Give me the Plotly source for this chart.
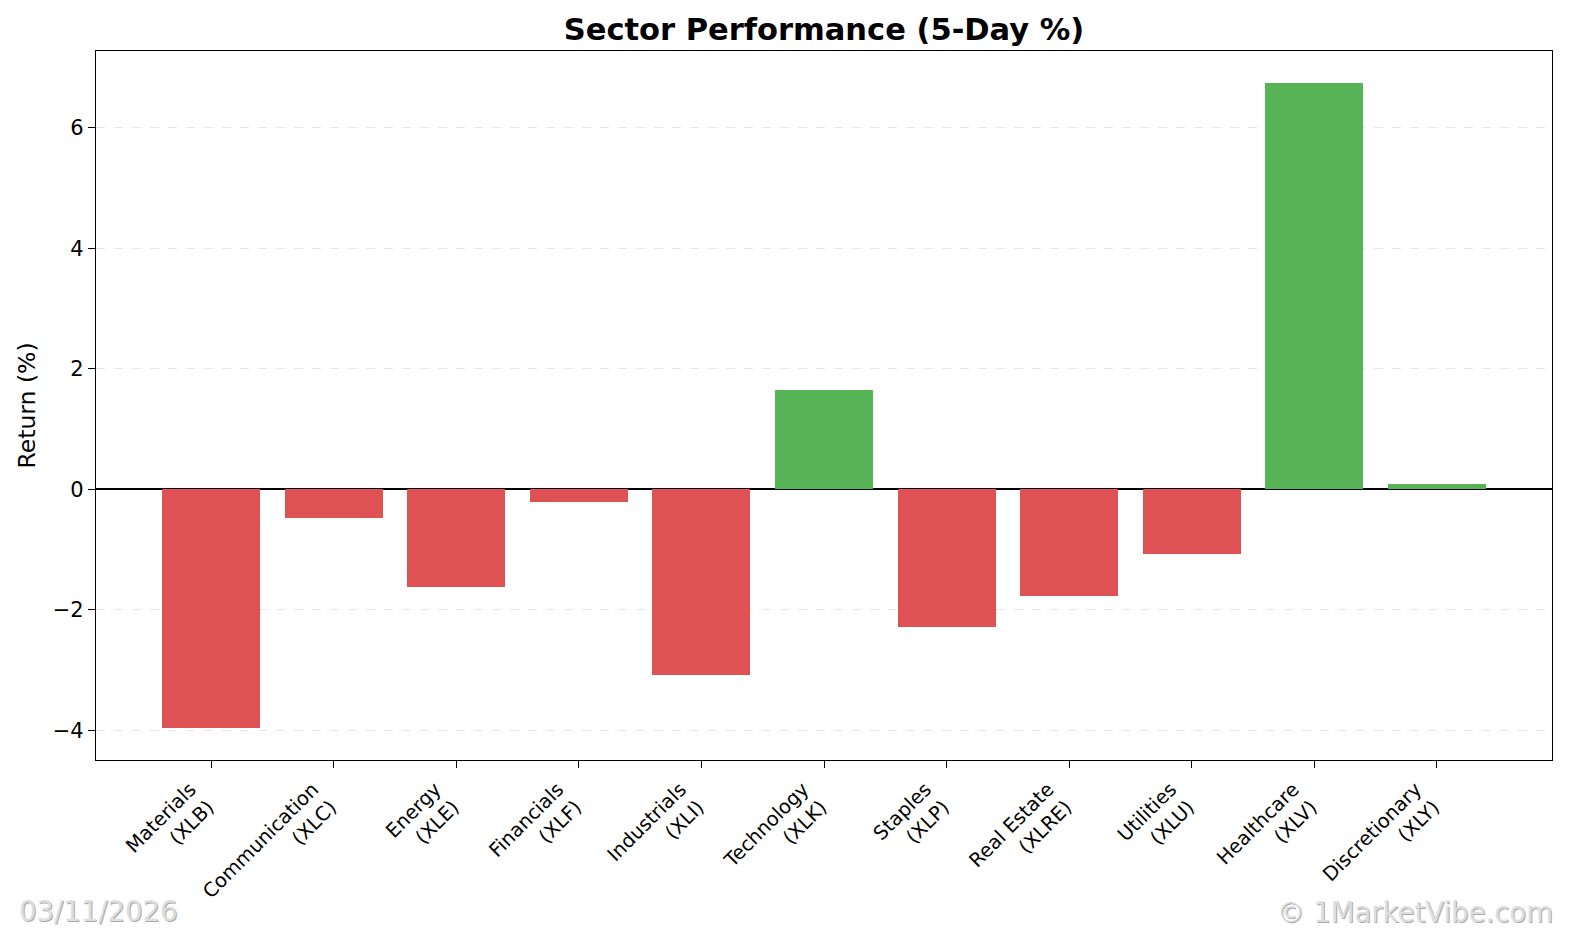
import plotly.graph_objects as go

sectors = ["Materials", "Communication", "Energy", "Financials", "Industrials", "Technology",
           "Staples", "Real Estate", "Utilities", "Healthcare", "Discretionary"]
tickers = ["XLB", "XLC", "XLE", "XLF", "XLI", "XLK", "XLP", "XLRE", "XLU", "XLV", "XLY"]
returns = [-3.96, -0.47, -1.63, -0.21, -3.08, 1.64, -2.29, -1.78, -1.07, 6.74, 0.08]
y_ticks = [-4, -2, 0, 2, 4, 6]

RED = "#de5253"
GREEN = "#56b356"

xs = list(range(len(sectors)))
labels = [f"{s}<br>({t})" for s, t in zip(sectors, tickers)]
colors = [GREEN if v >= 0 else RED for v in returns]

ymin, ymax = min(returns), max(returns)
pad = 0.05 * (ymax - ymin)

W, H = 1584, 940
L, R, T, B = 96, 32, 51, 180
PW, PH = W - L - R, H - T - B

fig = go.Figure()
fig.add_trace(go.Bar(x=xs, y=returns, marker=dict(color=colors, line=dict(width=0)),
                     width=0.8, showlegend=False))

fig.update_layout(
    width=W, height=H,
    margin=dict(l=L, r=R, t=T, b=B),
    paper_bgcolor="white", plot_bgcolor="white",
    font=dict(family="DejaVu Sans", color="black"),
    title=dict(text="<b>Sector Performance (5-Day %)</b>", x=(L + W - R) / 2 / W, xanchor="center",
               y=1 - 29 / H, yanchor="middle", font=dict(size=30.5, family="DejaVu Sans")),
    bargap=0,
)
fig.update_xaxes(
    range=[-0.4 - 0.05 * 10.8, 10.4 + 0.05 * 10.8],
    tickmode="array", tickvals=xs, ticktext=labels, tickangle=-45,
    tickfont=dict(size=19.5, family="DejaVu Sans"),
    ticklabelshift=-21, ticklabelstandoff=2,
    showline=True, linecolor="black", linewidth=1.3, mirror=True,
    ticks="outside", ticklen=7, tickwidth=1.3, tickcolor="black",
    showgrid=False, zeroline=False,
)
fig.update_yaxes(
    range=[ymin - pad, ymax + pad],
    tickmode="array", tickvals=y_ticks,
    tickfont=dict(size=21, family="DejaVu Sans"),
    title=dict(text="Return (%)", font=dict(size=23.5, family="DejaVu Sans"), standoff=10),
    showline=True, linecolor="black", linewidth=1.3, mirror=True,
    ticks="outside", ticklen=7, tickwidth=1.3, tickcolor="black",
    showgrid=True, gridcolor="#e6e6e6", griddash="dash", gridwidth=1,
    zeroline=True, zerolinecolor="black", zerolinewidth=1.5,
)

def watermark(text, px, py, anchor):
    x = (px - L) / PW
    y = -(py - (H - B)) / PH
    for color, dx, dy in [("#a9a9a9", 1, -1), ("#dedede", 0, 0)]:
        fig.add_annotation(text=text, xref="paper", yref="paper", x=x, y=y,
                           xanchor=anchor, yanchor="middle", showarrow=False,
                           xshift=dx, yshift=dy,
                           font=dict(size=27.5, family="DejaVu Sans", color=color))

watermark("03/11/2026", 17, 911, "left")
watermark("© 1MarketVibe.com", 1555, 912, "right")

fig.write_html("out.html", config={"displayModeBar": False},
               post_script="document.body.style.margin='0';document.body.style.overflow='hidden';")
